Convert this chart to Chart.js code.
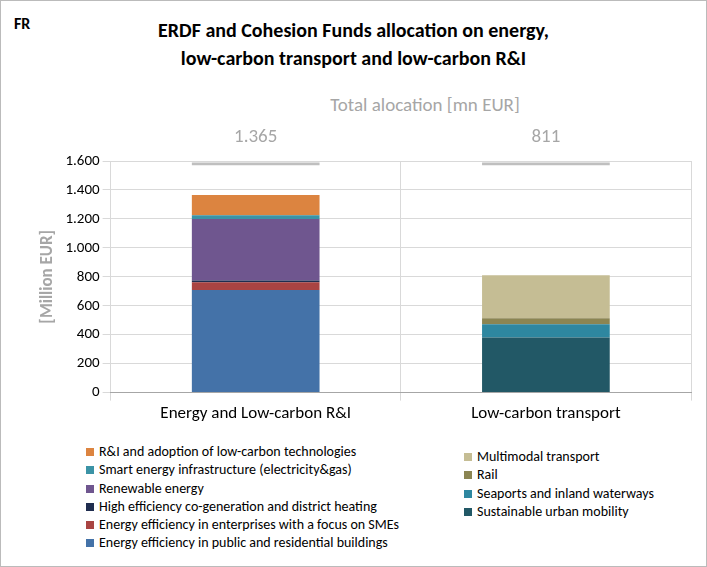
<!DOCTYPE html>
<html><head><meta charset="utf-8">
<script src="https://cdn.jsdelivr.net/npm/chart.js@4"></script>
<style>
body{margin:0;width:707px;height:567px;font-family:Calibri,Carlito,"Liberation Sans",sans-serif;background:#fff;overflow:hidden}
#frame{position:absolute;left:0;top:0;width:705px;height:565px;border:1px solid #bbb}
#fr{position:absolute;left:14px;top:14px;font-weight:bold;font-size:16px;color:#000}
#title{position:absolute;left:0;width:707px;top:16px;text-align:center;font-weight:bold;font-size:20px;line-height:28px;color:#000}
#total{position:absolute;left:160px;width:530px;top:93px;text-align:center;font-size:19px;color:#a6a6a6}
#wrap{position:absolute;left:0;top:115px;width:705px;height:312px}
.leg{position:absolute;font-size:14px;color:#000}
.leg div{height:18.3px;line-height:18px;white-space:nowrap}
.leg span{display:inline-block;width:8px;height:8px;margin-right:5px;vertical-align:0px}
</style></head><body>
<div id="frame"></div>
<div id="fr">FR</div>
<div id="title">ERDF and Cohesion Funds allocation on energy,<br>low-carbon transport and low-carbon R&amp;I</div>
<div id="total">Total alocation [mn EUR]</div>
<div id="wrap"><canvas id="c"></canvas></div>
<div class="leg" id="legL" style="left:86px;top:443px"></div>
<div class="leg" id="legR" style="left:464px;top:448px"></div>
<script>
const categories=["Energy and Low-carbon R&I","Low-carbon transport"];
const totals=[1365,811];
const totalMarker=1580;
const seriesNames=["Energy efficiency in public and residential buildings","Energy efficiency in enterprises with a focus on SMEs","High efficiency co-generation and district heating","Renewable energy","Smart energy infrastructure (electricity&gas)","R&I and adoption of low-carbon technologies","Sustainable urban mobility","Seaports and inland waterways","Rail","Multimodal transport"];
const eePublic=[708,0];
const eeSME=[55,0];
const cogen=[11,0];
const renewable=[426,0];
const smartEnergy=[26,0];
const rdi=[139,0];
const urban=[0,381];
const seaports=[0,91];
const rail=[0,41];
const multimodal=[0,298];
const colors=["#4472a8","#a94442","#1f2d4f","#6f568f","#3b93a6","#dc8440","#225866","#2e87a0","#8b8552","#c5bd94"];
const vals=[eePublic,eeSME,cogen,renewable,smartEnergy,rdi,urban,seaports,rail,multimodal];
const ds=vals.map((v,i)=>({label:seriesNames[i],data:v,backgroundColor:colors[i],stack:'s',barPercentage:0.88,categoryPercentage:0.5}));
ds.push({label:'total',data:totals.map(()=>[totalMarker-10,totalMarker+10]),backgroundColor:'#bfbfbf',stack:'t',grouped:false,barPercentage:0.88,categoryPercentage:0.5});
const totPlugin={id:'tot',afterDatasetsDraw(ch){const ctx=ch.ctx;const m=ch.getDatasetMeta(ds.length-1);ctx.save();ctx.font='19px Calibri,Carlito,"Liberation Sans",sans-serif';ctx.fillStyle='#a6a6a6';ctx.textAlign='center';m.data.forEach((b,i)=>{ctx.fillText(totals[i].toLocaleString('de-DE'),b.x,b.y-20);});ctx.restore();}};
const fmt=v=>v.toLocaleString('de-DE');
const L=[5,4,3,2,1,0],R=[9,8,7,6];
document.getElementById('legL').innerHTML=L.map(i=>`<div><span style="background:${colors[i]}"></span>${seriesNames[i].replace('&','&amp;')}</div>`).join('');
document.getElementById('legR').innerHTML=R.map(i=>`<div><span style="background:${colors[i]}"></span>${seriesNames[i]}</div>`).join('');
new Chart(document.getElementById('c'),{type:'bar',data:{labels:categories,datasets:ds},plugins:[totPlugin],
options:{responsive:true,maintainAspectRatio:false,animation:false,layout:{padding:{top:46,right:14,left:34}},
plugins:{legend:{display:false},tooltip:{enabled:false}},
scales:{x:{stacked:true,grid:{color:'#d9d9d9',offset:true,drawTicks:true},border:{color:'#a6a6a6'},ticks:{color:'#000',font:{size:17,family:'Calibri,Carlito,"Liberation Sans",sans-serif'}}},
y:{stacked:true,min:0,max:1600,ticks:{stepSize:200,color:'#000',callback:fmt,font:{size:15,family:'Calibri,Carlito,"Liberation Sans",sans-serif'}},grid:{color:'#d9d9d9'},border:{display:false},
title:{display:true,text:'[Million EUR]',color:'#a6a6a6',font:{size:17,weight:'bold',family:'Calibri,Carlito,"Liberation Sans",sans-serif'}}}}}});
</script></body></html>
